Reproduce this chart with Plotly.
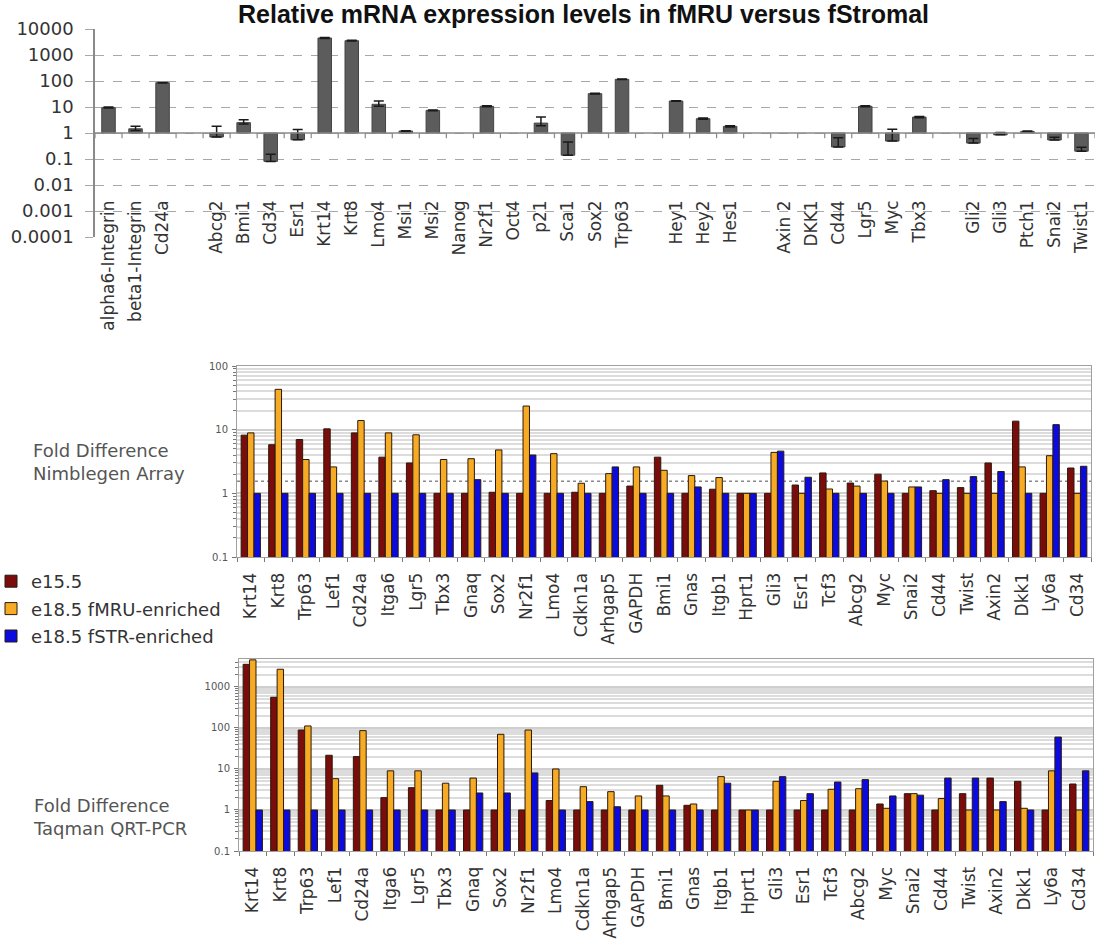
import math
import plotly.graph_objects as go

W, H = 1095, 949

# ---------------- Panel A: relative expression fMRU / fStromal ----------------
top_groups = [
    ["alpha6-Integrin", "beta1-Integrin", "Cd24a"],
    ["Abcg2", "Bmi1", "Cd34", "Esr1", "Krt14", "Krt8", "Lmo4", "Msi1", "Msi2",
     "Nanog", "Nr2f1", "Oct4", "p21", "Sca1", "Sox2", "Trp63"],
    ["Hey1", "Hey2", "Hes1"],
    ["Axin 2", "DKK1", "Cd44", "Lgr5", "Myc", "Tbx3"],
    ["Gli2", "Gli3", "Ptch1", "Snai2", "Twist1"],
]
top_values = [9.4, 1.45, 86,
              0.7, 2.5, 0.081, 0.55, 4500, 3550, 12.7, 1.19, 7.4,
              None, 10.6, None, 2.4, 0.14, 32.6, 116,
              17, 3.55, 1.8,
              None, None, 0.29, 10.6, 0.49, 4.1,
              0.41, 0.85, 1.15, 0.54, 0.2]
top_err_up = [0.6, 0.35, 4,
              1.1, 0.75, 0.07, 0.8, 200, 150, 4.3, 0.03, 0.3,
              0, 0.5, 0, 1.7, 0.31, 1.0, 3,
              0.5, 0.2, 0.1,
              0, 0, 0.37, 0.5, 0.89, 0.2,
              0.2, 0.2, 0.05, 0.15, 0.08]
top_err_down = [0.3, 0.2, 3,
                0.0, 0.3, 0.0, 0.0, 150, 120, 2.0, 0.02, 0.2,
                0, 0.3, 0, 0.5, 0.0, 0.8, 2,
                0.3, 0.2, 0.1,
                0, 0, 0.0, 0.3, 0.0, 0.2,
                0.0, 0.0, 0.03, 0.0, 0.0]
top_yticks = [1e-4, 1e-3, 1e-2, 1e-1, 1, 10, 100, 1000, 10000]
top_yticktext = ["0.0001", "0.001", "0.01", "0.1", "1", "10", "100", "1000", "10000"]

# ---------------- Panels B/C: three-stage comparison ----------------
genes = ["Krt14", "Krt8", "Trp63", "Lef1", "Cd24a", "Itga6", "Lgr5", "Tbx3", "Gnaq",
         "Sox2", "Nr2f1", "Lmo4", "Cdkn1a", "Arhgap5", "GAPDH", "Bmi1", "Gnas",
         "Itgb1", "Hprt1", "Gli3", "Esr1", "Tcf3", "Abcg2", "Myc", "Snai2", "Cd44",
         "Twist", "Axin2", "Dkk1", "Ly6a", "Cd34"]
series_names = ["e15.5", "e18.5 fMRU-enriched", "e18.5 fSTR-enriched"]

nim_e155 = [8.2, 5.8, 7.0, 10.3, 8.9, 3.7, 3.0, 1, 1, 1.04, 1, 1, 1.04, 1, 1.3, 3.7,
            1, 1.16, 1, 1, 1.35, 2.09, 1.45, 2.0, 1, 1.1, 1.23, 3.0, 13.6, 1, 2.5]
nim_fmru = [8.9, 43, 3.4, 2.6, 13.9, 8.9, 8.3, 3.4, 3.5, 4.8, 23.5, 4.2, 1.44, 2.04,
            2.6, 2.3, 1.9, 1.77, 1, 4.4, 1, 1.17, 1.3, 1.56, 1.26, 1, 1, 1, 2.6, 3.9, 1]
nim_fstr = [1, 1, 1, 1, 1, 1, 1, 1, 1.64, 1, 4.0, 1, 1, 2.6, 1, 1, 1.26, 1, 1, 4.6,
            1.79, 1, 1, 1, 1.26, 1.64, 1.83, 2.2, 1, 12, 2.66]

taq_e155 = [3560, 560, 89, 21.6, 20, 2.0, 3.5, 1, 1, 1, 1, 1.7, 1, 1, 1, 4.0, 1.3,
            1, 1, 1, 1, 1, 1, 1.4, 2.5, 1, 2.5, 6.0, 5.0, 1, 4.3]
taq_fmru = [4570, 2700, 112, 5.8, 86, 9, 9, 4.5, 6, 70, 89, 10, 3.7, 2.8, 2.2, 2.2,
            1.4, 6.5, 1, 5, 1.7, 3.2, 3.3, 1.1, 2.5, 1.9, 1, 1, 1.1, 9, 1]
taq_fstr = [1, 1, 1, 1, 1, 1, 1, 1, 2.6, 2.6, 8, 1, 1.6, 1.2, 1, 1, 1, 4.5, 1, 6.5,
            2.5, 4.8, 5.5, 2.2, 2.3, 6, 6, 1.6, 1, 60, 9]

COLORS = ["#7a0c0c", "#f7ab25", "#0b0be0"]
LABEL_FONT = dict(family="DejaVu Sans", size=17, color="#333333")


def px_x(v):
    return v / W


def px_y(v):
    return 1 - v / H


# plot-area geometry in pixels
A_L, A_R, A_T, A_B = 95, 1095, 29, 237
B_L, B_R, B_T, B_B = 237, 1091, 366, 557
C_L, C_R, C_T, C_B = 239, 1093, 659, 851

fig = go.Figure()

# --- panel A bars: drawn from a baseline of 1 ---
slot_x, slot_labels = [], []
pos = 0
for gi, grp in enumerate(top_groups):
    for g in grp:
        slot_x.append(pos)
        slot_labels.append(g)
        pos += 1
    pos += 1
n_slots = pos - 1

bar_y = [None if v is None else v - 1 for v in top_values]
fig.add_trace(go.Bar(
    x=slot_x, y=bar_y, base=1, width=0.5,
    marker=dict(color="#5c5c5c", line=dict(color="#444444", width=1)),
    error_y=dict(type="data", array=top_err_up, arrayminus=top_err_down,
                 color="#1a1a1a", thickness=1.5, width=5, symmetric=False),
    xaxis="x", yaxis="y", showlegend=False,
))

# baseline at 1 with boundary ticks
fig.add_trace(go.Scatter(
    x=[-0.5, n_slots - 0.5], y=[1, 1], mode="lines",
    line=dict(color="#8a8a8a", width=1.5), xaxis="x", yaxis="y",
    showlegend=False, hoverinfo="skip",
))
tx, ty = [], []
for b in range(n_slots + 1):
    tx += [b - 0.5, b - 0.5, None]
    ty += [1, 0.63, None]
fig.add_trace(go.Scatter(
    x=tx, y=ty, mode="lines", line=dict(color="#8a8a8a", width=1.2),
    xaxis="x", yaxis="y", showlegend=False, hoverinfo="skip",
))

# --- panel B (Nimblegen) and panel C (Taqman) bars ---
for vals, name, col in zip([nim_e155, nim_fmru, nim_fstr], series_names, COLORS):
    fig.add_trace(go.Bar(
        x=genes, y=vals, name=name, xaxis="x2", yaxis="y2",
        marker=dict(color=col, line=dict(color="#2b1a0a", width=1)),
        legendgroup=name,
    ))
for vals, name, col in zip([taq_e155, taq_fmru, taq_fstr], series_names, COLORS):
    fig.add_trace(go.Bar(
        x=genes, y=vals, name=name, xaxis="x3", yaxis="y3",
        marker=dict(color=col, line=dict(color="#2b1a0a", width=1)),
        legendgroup=name, showlegend=False,
    ))


def minor_vals(lo, hi):
    out = []
    for d in range(lo, hi + 1):
        for m in range(2, 10):
            out.append(m * 10 ** d)
    return out


def log_panel_y(val, top_px, bot_px, lo, hi):
    """Paper y of a value on a log axis spanning [lo, hi] decades."""
    frac = (math.log10(val) - lo) / (hi - lo)
    return px_y(bot_px - frac * (bot_px - top_px))


C_HI = math.log10(4800)

shapes = [
    # reference line at 10 in the Nimblegen panel
    dict(type="line", xref="paper", yref="paper",
         x0=px_x(B_L), x1=px_x(B_R),
         y0=log_panel_y(10, B_T, B_B, -1, 2), y1=log_panel_y(10, B_T, B_B, -1, 2),
         line=dict(color="#333333", width=1.5), layer="below"),
    # dotted threshold line
    dict(type="line", xref="paper", yref="paper",
         x0=px_x(B_L), x1=px_x(B_R),
         y0=log_panel_y(1.55, B_T, B_B, -1, 2), y1=log_panel_y(1.55, B_T, B_B, -1, 2),
         line=dict(color="#888888", width=1.5, dash="dot"), layer="below"),
]

grid_axis = dict(
    type="log", showgrid=True, gridcolor="#cfcfcf", gridwidth=2,
    showline=True, mirror=True, linecolor="#a0a0a0", linewidth=1,
    ticks="outside", ticklen=4, tickcolor="#777777",
    tickfont=dict(family="DejaVu Sans", size=10, color="#555555"),
    ticklabelstandoff=2,
)
cat_axis = dict(
    type="category", tickangle=-90, ticks="outside", tickson="boundaries",
    ticklen=4, tickcolor="#777777", showline=True, mirror=True,
    linecolor="#a0a0a0", linewidth=1, showgrid=False,
    tickfont=LABEL_FONT, ticklabelstandoff=8,
)

fig.update_layout(
    width=W, height=H, margin=dict(l=0, r=0, t=0, b=0, autoexpand=False),
    paper_bgcolor="white", plot_bgcolor="white",
    barmode="group", bargap=0.30, bargroupgap=0.0,
    shapes=shapes,
    xaxis=dict(
        domain=[px_x(A_L), px_x(A_R)], range=[-0.5, n_slots - 0.5],
        anchor="free", position=px_y(196),
        tickvals=slot_x, ticktext=slot_labels, tickangle=-90,
        ticks="", showline=False, showgrid=False, zeroline=False,
        tickfont=LABEL_FONT, automargin=False,
    ),
    yaxis=dict(
        domain=[px_y(A_B), px_y(A_T)], type="log", range=[-4, 4],
        tickvals=top_yticks, ticktext=top_yticktext,
        showgrid=True, gridcolor="#a8a8a8", griddash="dash", gridwidth=1,
        showline=True, linecolor="#8a8a8a", linewidth=1.5,
        ticks="outside", ticklen=8, tickcolor="#a8a8a8",
        tickfont=dict(family="DejaVu Sans", size=18, color="#333333"),
        ticklabelstandoff=8, anchor="x", zeroline=False, automargin=False,
    ),
    xaxis2=dict(domain=[px_x(B_L), px_x(B_R)], anchor="y2", automargin=False, **cat_axis),
    yaxis2=dict(
        domain=[px_y(B_B), px_y(B_T)], range=[-1, 2], anchor="x2", automargin=False,
        tickvals=[0.1, 1, 10, 100], ticktext=["0.1", "1", "10", "100"],
        minor=dict(tickvals=minor_vals(-1, 1), showgrid=True, gridcolor="#dcdcdc",
                   gridwidth=2, ticks="outside", ticklen=3, tickcolor="#777777"),
        **grid_axis,
    ),
    xaxis3=dict(domain=[px_x(C_L), px_x(C_R)], anchor="y3", automargin=False, **cat_axis),
    yaxis3=dict(
        domain=[px_y(C_B), px_y(C_T)], range=[-1, C_HI], anchor="x3", automargin=False,
        tickvals=[0.1, 1, 10, 100, 1000], ticktext=["0.1", "1", "10", "100", "1000"],
        minor=dict(tickvals=minor_vals(-1, 3), showgrid=True, gridcolor="#dcdcdc",
                   gridwidth=2, ticks="outside", ticklen=3, tickcolor="#777777"),
        **grid_axis,
    ),
    legend=dict(
        x=px_x(-9), y=px_y(563), xanchor="left", yanchor="top",
        font=dict(family="DejaVu Sans", size=18, color="#333333"),
        bgcolor="rgba(0,0,0,0)", tracegroupgap=1, traceorder="grouped",
        itemwidth=30,
    ),
    annotations=[
        dict(text="<b>Relative mRNA expression levels in fMRU versus fStromal</b>",
             x=px_x(583), y=px_y(14), xref="paper", yref="paper",
             xanchor="center", yanchor="middle", showarrow=False,
             font=dict(family="Liberation Sans", size=25, color="#111111")),
        dict(text="Fold Difference<br>Nimblegen Array",
             x=px_x(31), y=px_y(462), xref="paper", yref="paper",
             xanchor="left", yanchor="middle", align="left", showarrow=False,
             font=dict(family="DejaVu Sans", size=18, color="#555555")),
        dict(text="Fold Difference<br>Taqman QRT-PCR",
             x=px_x(31), y=px_y(817), xref="paper", yref="paper",
             xanchor="left", yanchor="middle", align="left", showarrow=False,
             font=dict(family="DejaVu Sans", size=18, color="#555555")),
    ],
)

fig.write_html("out.html")
